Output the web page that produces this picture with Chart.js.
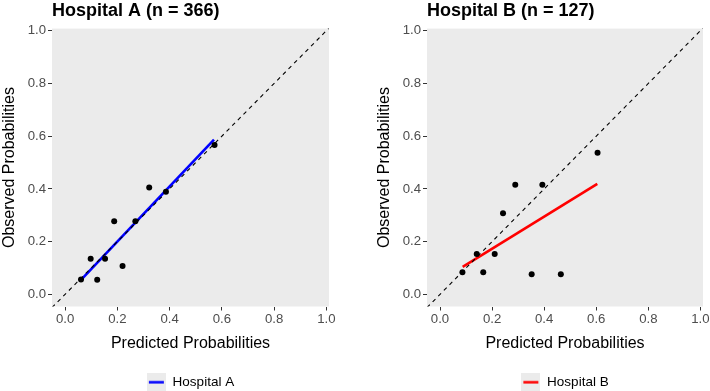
<!DOCTYPE html>
<html>
<head>
<meta charset="utf-8">
<script src="https://cdn.jsdelivr.net/npm/chart.js@4.4.1/dist/chart.umd.min.js"></script>
<style>
  body { margin: 0; background: #ffffff; }
  .panel { position: absolute; top: 0; width: 355px; height: 391px; }
</style>
</head>
<body>
<div class="panel" style="left:0"><canvas id="chartA" width="355" height="391"></canvas></div>
<div class="panel" style="left:355px"><canvas id="chartB" width="355" height="391"></canvas></div>
<script>
// Achsen
const tickValues = [0.0, 0.2, 0.4, 0.6, 0.8, 1.0];
const xRange = [-0.05, 1.01];
const yRange = [-0.046, 1.008];
const refLine = [-0.05, 1.01];   // y = x Diagonale

// Hospital A (n = 366)
const predA = [0.061, 0.098, 0.123, 0.153, 0.188, 0.220, 0.269, 0.322, 0.386, 0.572];
const obsA  = [0.056, 0.135, 0.055, 0.135, 0.277, 0.108, 0.277, 0.405, 0.389, 0.567];
const fitXA = [0.061, 0.570];
const fitYA = [0.055, 0.587];

// Hospital B (n = 127)
const predB = [0.086, 0.141, 0.166, 0.210, 0.242, 0.289, 0.352, 0.393, 0.464, 0.605];
const obsB  = [0.084, 0.153, 0.084, 0.153, 0.308, 0.416, 0.076, 0.416, 0.076, 0.537];
const fitXB = [0.087, 0.604];
const fitYB = [0.104, 0.419];

const FONT = "'Liberation Sans', Arial, sans-serif";

// grauer Panel-Hintergrund
const panelBg = {
    id: "panelBg",
    beforeDraw(chart) {
        const a = chart.chartArea;
        const ctx = chart.ctx;
        ctx.save();
        ctx.fillStyle = "#EBEBEB";
        ctx.fillRect(a.left, a.top, a.right - a.left, a.bottom - a.top);
        ctx.restore();
    }
};

// Legendensymbol wie bei ggplot: graues Kästchen mit Linie
function legendKey(color) {
    const c = document.createElement("canvas");
    c.width = 19; c.height = 19;
    const g = c.getContext("2d");
    g.fillStyle = "#EBEBEB";
    g.fillRect(0, 0, 19, 19);
    g.strokeStyle = color;
    g.lineWidth = 2.5;
    g.beginPath();
    g.moveTo(2, 9.5);
    g.lineTo(17, 9.5);
    g.stroke();
    return c;
}

function toPoints(xs, ys) {
    return xs.map((x, i) => ({ x: x, y: ys[i] }));
}

function axis(range, title, isY) {
    return {
        type: "linear",
        min: range[0],
        max: range[1],
        afterBuildTicks: s => { s.ticks = tickValues.map(v => ({ value: v })); },
        afterFit: s => {
            if (isY) {
                s.width = 52;
            } else {
                s.height = 66;
                s.paddingLeft = 0;
                s.paddingRight = 0;
            }
        },
        border: { display: false },
        grid: { drawOnChartArea: false, drawTicks: true, tickLength: 4, color: "#333333", lineWidth: 1 },
        ticks: {
            color: "#4D4D4D",
            font: { family: FONT, size: 13.2 },
            padding: isY ? 2 : 1,
            maxRotation: 0,
            callback: v => v.toFixed(1)
        },
        title: {
            display: true,
            text: title,
            color: "#000000",
            font: { family: FONT, size: 16 },
            padding: { top: 0, bottom: isY ? 0 : 19 }
        }
    };
}

function makeChart(id, title, name, color, px, py, fx, fy, padLeft, padRight) {
    const ctx = document.getElementById(id).getContext("2d");
    return new Chart(ctx, {
        type: "scatter",
        data: {
            datasets: [
                {
                    label: "points",
                    data: toPoints(px, py),
                    backgroundColor: "#000000",
                    borderWidth: 0,
                    pointRadius: 3,
                    order: 0
                },
                {
                    label: "ref",
                    type: "line",
                    data: toPoints(refLine, refLine),
                    borderColor: "#000000",
                    borderWidth: 1.1,
                    borderDash: [4, 4],
                    pointRadius: 0,
                    order: 1
                },
                {
                    label: name,
                    type: "line",
                    data: toPoints(fx, fy),
                    borderColor: color,
                    borderWidth: 2.6,
                    pointRadius: 0,
                    order: 2
                }
            ]
        },
        options: {
            responsive: false,
            animation: false,
            layout: { padding: { left: padLeft, top: 0, right: padRight, bottom: -8 } },
            scales: {
                x: axis(xRange, "Predicted Probabilities", false),
                y: axis(yRange, "Observed Probabilities", true)
            },
            plugins: {
                title: {
                    display: true,
                    text: title,
                    align: "start",
                    fullSize: false,
                    color: "#000000",
                    font: { family: FONT, size: 18, weight: "bold" },
                    padding: { top: 0, bottom: 7 }
                },
                legend: {
                    position: "bottom",
                    fullSize: false,
                    labels: {
                        usePointStyle: true,
                        pointStyleWidth: 19,
                        color: "#000000",
                        font: { family: FONT, size: 13.5 },
                        padding: 3,
                        generateLabels: chart => [{
                            text: name,
                            pointStyle: legendKey(color),
                            fillStyle: color,
                            strokeStyle: color,
                            lineWidth: 0,
                            datasetIndex: 2,
                            fontColor: "#000000"
                        }]
                    },
                    onClick: null
                },
                tooltip: { enabled: false }
            }
        },
        plugins: [panelBg]
    });
}

makeChart("chartA", "Hospital A (n = 366)", "Hospital A", "#0000FF", predA, obsA, fitXA, fitYA, 0, 26);
makeChart("chartB", "Hospital B (n = 127)", "Hospital B", "#FF0000", predB, obsB, fitXB, fitYB, 20, 7);
</script>
</body>
</html>
